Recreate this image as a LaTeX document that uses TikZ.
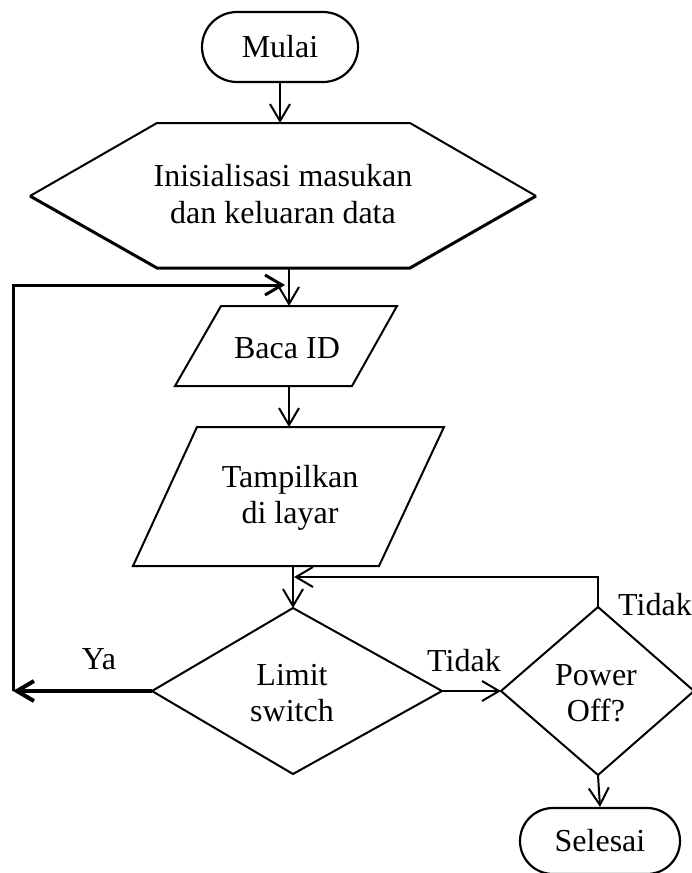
\documentclass[tikz,border=0pt]{standalone}
\usepackage{fontspec}
\setmainfont{Liberation Serif}
\usetikzlibrary{arrows.meta,shapes.misc}
\begin{document}
\begin{tikzpicture}[x=1pt,y=-1pt,
  shapeline/.style={line width=2pt, line join=miter},
  heavyline/.style={line width=3pt, line join=miter},
  lbl/.style={font=\fontsize{32}{36.5}\selectfont, align=center, inner sep=0pt},
  conn/.style={line width=2pt, line join=miter, -{Straight Barb[length=17pt,width=20pt]}},
  thickconn/.style={line width=3pt, line join=miter, -{Straight Barb[length=17pt,width=20pt]}},
  heavyconn/.style={line width=4pt, -{Straight Barb[length=17pt,width=20pt]}},
  terminal/.style={rounded rectangle, draw, line width=2.2pt, inner sep=0pt,
    font=\fontsize{32}{36.5}\selectfont}
]
\useasboundingbox (0,0) rectangle (692,873);

% Start
\node[terminal, minimum width=156pt, minimum height=70pt] (mulai) at (280,47) {Mulai};

% Hexagon
\coordinate (h1) at (30,196);
\coordinate (h2) at (157,123);
\coordinate (h3) at (410,123);
\coordinate (h4) at (536,196);
\coordinate (h5) at (410,268);
\coordinate (h6) at (157,268);
\draw[shapeline] (h1) -- (h2) -- (h3) -- (h4);
\draw[heavyline] (h4) -- (h5) -- (h6) -- (h1);
\node[lbl] (init) at (283,194) {Inisialisasi masukan\\dan keluaran data};
\coordinate (hextop) at (280,123);
\coordinate (hexbot) at (289,268);

% Baca ID
\coordinate (b1) at (221,306);
\coordinate (b2) at (397,306);
\coordinate (b3) at (352,386);
\coordinate (b4) at (175,386);
\draw[shapeline] (b1) -- (b2) -- (b3) -- (b4) -- cycle;
\node[lbl] (baca) at (287,348) {Baca ID};
\coordinate (bacatop) at (289,306);
\coordinate (bacabot) at (289,386);

% Tampilkan
\coordinate (t1) at (197,427);
\coordinate (t2) at (444,427);
\coordinate (t3) at (379,566);
\coordinate (t4) at (133,566);
\draw[shapeline] (t1) -- (t2) -- (t3) -- (t4) -- cycle;
\node[lbl] (tampil) at (290,498) {Tampilkan\\di layar};
\coordinate (tamptop) at (289,427);
\coordinate (tampbot) at (293,566);

% Limit switch diamond
\coordinate (lt) at (293,608);
\coordinate (lr) at (442,691);
\coordinate (lb) at (293,774);
\coordinate (ll) at (152,691);
\draw[shapeline] (lt) -- (lr) -- (lb) -- (ll) -- cycle;
\node[lbl] (limit) at (292,693) {Limit\\switch};

% Power Off diamond
\coordinate (pt) at (598,607);
\coordinate (pr) at (694,691);
\coordinate (pb) at (598,775);
\coordinate (pl) at (501,691);
\draw[shapeline] (pt) -- (pr) -- (pb) -- (pl) -- cycle;
\node[lbl] (power) at (596,693) {Power\\Off?};

% End
\node[terminal, minimum width=160pt, minimum height=66pt] (selesai) at (600,841) {Selesai};

% Labels
\node[lbl] (ya) at (99,659) {Ya};
\node[lbl] (tidak1) at (464,661) {Tidak};
\node[lbl] (tidak2) at (655,605) {Tidak};

% Connectors
\coordinate (loopbot) at (13,691);
\coordinate (looptop) at (13,285);
\coordinate (loopend) at (285,285);
\coordinate (fbcorner) at (598,577);
\coordinate (fbend) at (294,577);

\draw[conn] (mulai.south) -- (hextop);
\draw[conn] (hexbot) -- (bacatop);
\draw[conn] (bacabot) -- (tamptop);
\draw[conn] (tampbot) -- (lt);
\draw[conn] (pt) -- (fbcorner) -- (fbend);
\draw[conn] (lr) -- (pl);
\draw[conn] (pb) -- (selesai.north);
\draw[heavyconn] (ll) -- (loopbot);
\draw[thickconn] (loopbot) -- (looptop) -- (loopend);
\end{tikzpicture}
\end{document}
